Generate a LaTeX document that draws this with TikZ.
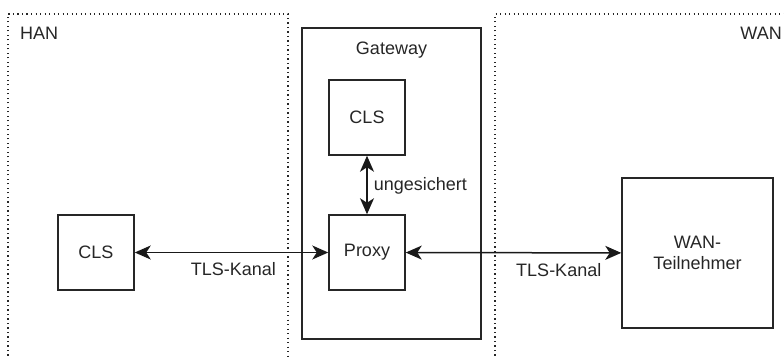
\documentclass[tikz,border=0pt]{standalone}
\usepackage{fontspec}
\setmainfont{Liberation Sans}
\usetikzlibrary{arrows.meta}
\begin{document}
\begin{tikzpicture}[x=1pt,y=-1pt,
  every node/.style={font=\fontsize{18}{21}\selectfont, text=black!85},
  zone/.style={draw=black!85, line width=1.4pt, dash pattern=on 1.4pt off 3.1pt},
  box/.style={draw=black!85, line width=1.5pt, minimum width=76pt, minimum height=75pt, inner sep=0pt},
  frame/.style={draw=black!85, line width=1.5pt},
  link/.style={line width=1.5pt, draw=black!90, {Stealth[length=16pt,width=14pt,inset=4.5pt]}-{Stealth[length=16pt,width=14pt,inset=4.5pt]}},
  lbl/.style={inner sep=0pt}
]
\useasboundingbox (0,0) rectangle (784,358);

% network zones
\draw[zone] (8,360) -- (8,14) -- (288,14) -- (288,360);
\draw[zone] (495,360) -- (495,14) -- (790,14);
\node[lbl, anchor=west] (han) at (20,33) {HAN};
\node[lbl, anchor=east] (wan) at (782,33) {WAN};

% gateway frame
\draw[frame] (302,28) rectangle (481,339);
\node[lbl] (gw) at (391.5,50) {Gateway};

% components
\node[box] (gcls) at (367,117.5) {CLS};
\node[box] (proxy) at (367,252.5) {Proxy};
\node[box] (hcls) at (96,252.5) {CLS};
\node[box, minimum width=151pt, minimum height=150pt, align=center] (wanp) at (697.5,253) {WAN-\\Teilnehmer};

% connections
\draw[link] (gcls) -- node[lbl, anchor=west, xshift=6pt, pos=0.52] (ung) {ungesichert} (proxy);
\draw[link] (hcls) -- node[lbl, pos=0.51, yshift=-17pt] (tls1) {TLS-Kanal} (proxy);
\draw[link] (proxy) -- node[lbl, pos=0.71, yshift=-17pt] (tls2) {TLS-Kanal} (wanp);
\end{tikzpicture}
\end{document}
